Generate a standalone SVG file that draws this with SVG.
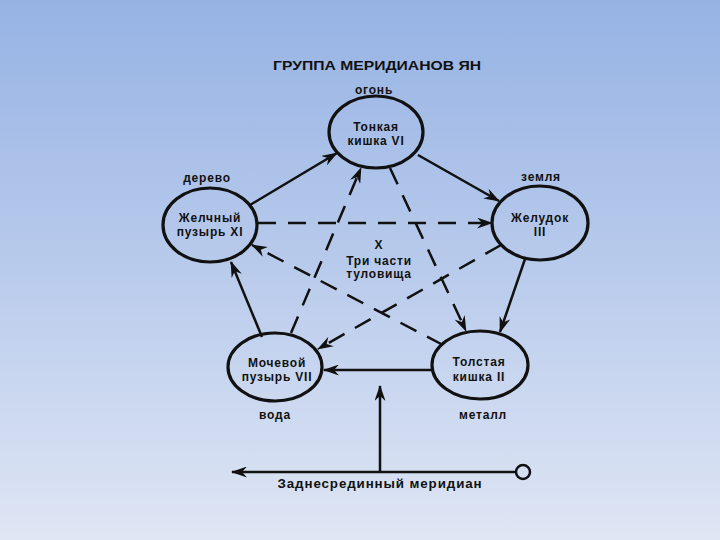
<svg xmlns="http://www.w3.org/2000/svg" width="720" height="540" viewBox="0 0 720 540">
<defs>
<linearGradient id="bg" x1="0" y1="0" x2="0" y2="1">
<stop offset="0" stop-color="#96b3e4"/>
<stop offset="0.5" stop-color="#b9cbec"/>
<stop offset="1" stop-color="#dfe6f4"/>
</linearGradient>
<marker id="ah" viewBox="0 0 16 11" refX="15" refY="5.5" markerWidth="16" markerHeight="11" markerUnits="userSpaceOnUse" orient="auto">
<path d="M0,0 L16,5.5 L0,11 L5,5.5 Z" fill="#111"/>
</marker>
<style>
.n ellipse{fill:none;stroke:#111;stroke-width:3.2}
text{font-family:"Liberation Sans",Arial,sans-serif;font-weight:bold;fill:#111;text-anchor:middle}
.t{font-size:12px;letter-spacing:0.8px}
.s{stroke:#111;stroke-width:2.5;fill:none;marker-end:url(#ah)}
.d{stroke:#111;stroke-width:2.5;fill:none;stroke-dasharray:18 12;marker-end:url(#ah)}
</style>
</defs>
<rect width="720" height="540" fill="url(#bg)"/>
<text x="377" y="70" font-size="13" textLength="208" lengthAdjust="spacingAndGlyphs">ГРУППА МЕРИДИАНОВ ЯН</text>
<g id="connectors">
<line class="s" x1="250" y1="205" x2="337" y2="153"/>
<line class="s" x1="418" y1="155" x2="499" y2="201"/>
<line class="s" x1="525" y1="259" x2="500" y2="332"/>
<line class="s" x1="432" y1="370" x2="324" y2="370"/>
<line class="s" x1="262" y1="337" x2="231" y2="262"/>
<line class="d" x1="258" y1="223" x2="492" y2="223"/>
<line class="d" x1="291" y1="333" x2="361" y2="168"/>
<line class="d" x1="390" y1="168" x2="466" y2="331"/>
<line class="d" x1="501" y1="245" x2="318" y2="349"/>
<line class="d" x1="443" y1="345" x2="252" y2="245"/>
<line class="s" x1="380" y1="472" x2="380" y2="386"/>
<line class="s" x1="516" y1="472" x2="232" y2="472"/>
<circle cx="523" cy="472" r="7" fill="none" stroke="#111" stroke-width="2.5"/>
</g>
<g id="n-tonkaya" class="n">
<ellipse cx="376" cy="132" rx="47" ry="36"/>
<text class="t" x="376" y="131">Тонкая</text>
<text class="t" x="376" y="145">кишка VI</text>
<text class="t" x="374" y="94">огонь</text>
</g>
<g id="n-zhelchny" class="n">
<ellipse cx="210" cy="225" rx="47" ry="37"/>
<text class="t" x="210" y="222">Желчный</text>
<text class="t" x="210" y="236">пузырь XI</text>
<text class="t" x="207" y="182">дерево</text>
</g>
<g id="n-zheludok" class="n">
<ellipse cx="540" cy="223" rx="48" ry="37"/>
<text class="t" x="540" y="222">Желудок</text>
<text class="t" x="540" y="236">III</text>
<text class="t" x="541" y="181">земля</text>
</g>
<g id="n-mochevoy" class="n">
<ellipse cx="275" cy="367" rx="47" ry="34"/>
<text class="t" x="277" y="367">Мочевой</text>
<text class="t" x="277" y="381">пузырь VII</text>
<text class="t" x="275" y="419">вода</text>
</g>
<g id="n-tolstaya" class="n">
<ellipse cx="480" cy="365" rx="48" ry="34"/>
<text class="t" x="479" y="366">Толстая</text>
<text class="t" x="479" y="381">кишка II</text>
<text class="t" x="483" y="419">металл</text>
</g>
<g id="center">
<text class="t" x="379" y="249">X</text>
<text class="t" x="379" y="265">Три части</text>
<text class="t" x="379" y="278">туловища</text>
</g>
<text class="t" x="380" y="488" textLength="205" lengthAdjust="spacingAndGlyphs">Заднесрединный меридиан</text>
</svg>
